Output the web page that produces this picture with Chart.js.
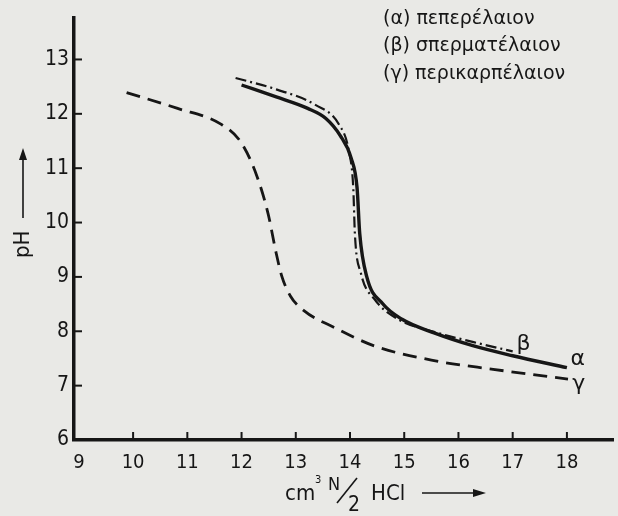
<!DOCTYPE html>
<html>
<head>
<meta charset="utf-8">
<script src="https://cdn.jsdelivr.net/npm/chart.js@4.4.1/dist/chart.umd.min.js"></script>
<style>
  html, body { margin: 0; padding: 0; background: #e9e9e6; }
  #wrap { width: 618px; height: 516px; position: relative; }
</style>
</head>
<body>
<div id="wrap"><canvas id="grafico"></canvas></div>
<script>
// curvas de titulação (cm3 N/2 HCl -> pH)
var alfa_x = [12.0, 12.64, 13.22, 13.55, 13.82, 14.02, 14.13, 14.18, 14.31, 14.60, 14.96, 15.55, 16.28, 17.0, 18.0]
var alfa_y = [12.53, 12.31, 12.10, 11.92, 11.6, 11.19, 10.64, 9.79, 9.0, 8.51, 8.22, 7.97, 7.73, 7.55, 7.33]

var beta_x = [11.89, 12.64, 13.37, 13.80, 13.98, 14.06, 14.09, 14.20, 14.46, 14.89, 15.55, 16.28, 17.0]
var beta_y = [12.66, 12.45, 12.16, 11.80, 11.31, 10.64, 9.79, 9.07, 8.58, 8.22, 7.99, 7.80, 7.63]

var gama_x = [9.88, 10.82, 11.62, 11.98, 12.27, 12.49, 12.64, 12.74, 12.9, 13.15, 13.73, 14.45, 15.55, 16.64, 18.02]
var gama_y = [12.39, 12.10, 11.81, 11.49, 10.89, 10.16, 9.43, 9.02, 8.65, 8.38, 8.06, 7.73, 7.46, 7.30, 7.12]

var ticks_x = [9, 10, 11, 12, 13, 14, 15, 16, 17, 18]
var ticks_y = [6, 7, 8, 9, 10, 11, 12, 13]

var legenda = ['(α) πεπερέλαιον', '(β) σπερματέλαιον', '(γ) περικαρπέλαιον']
var rotulos = ['α', 'β', 'γ']
var rotulos_pos = [[18.2, 7.48], [17.2, 7.76], [18.22, 7.03]]

var tinta = '#161616'
var fonte = '"DejaVu Sans Condensed", "DejaVu Sans", sans-serif'
var fonte_larga = '"DejaVu Sans", sans-serif'

function pontos(xs, ys) {
  return xs.map(function (x, i) { return { x: x, y: ys[i] } })
}

var desenhos = {
  id: 'desenhos',
  afterDraw: function (chart) {
    var ctx = chart.ctx
    var sx = chart.scales.x
    var sy = chart.scales.y
    var area = chart.chartArea
    ctx.save()
    ctx.strokeStyle = tinta
    ctx.fillStyle = tinta
    ctx.lineWidth = 2
    // marcas para dentro
    ticks_x.forEach(function (v) {
      if (v == 9) return
      var px = sx.getPixelForValue(v)
      ctx.beginPath(); ctx.moveTo(px, area.bottom); ctx.lineTo(px, area.bottom - 8); ctx.stroke()
    })
    ticks_y.forEach(function (v) {
      if (v == 6) return
      var py = sy.getPixelForValue(v)
      ctx.beginPath(); ctx.moveTo(area.left, py); ctx.lineTo(area.left + 8, py); ctx.stroke()
    })

    // letras das curvas
    ctx.font = '22px ' + fonte_larga
    ctx.textAlign = 'center'
    ctx.textBaseline = 'middle'
    rotulos.forEach(function (r, i) {
      ctx.fillText(r, sx.getPixelForValue(rotulos_pos[i][0]), sy.getPixelForValue(rotulos_pos[i][1]))
    })

    // legenda
    ctx.font = '19px ' + fonte_larga
    ctx.textAlign = 'left'
    legenda.forEach(function (t, i) {
      ctx.fillText(t, 383, 19 + i * 27.5)
    })

    // titulo eixo y
    ctx.save()
    ctx.translate(23, 258)
    ctx.rotate(-Math.PI / 2)
    ctx.font = '22px ' + fonte
    ctx.textAlign = 'left'
    ctx.fillText('pH', 0, 0)
    ctx.lineWidth = 1.6
    ctx.beginPath(); ctx.moveTo(40, 0); ctx.lineTo(102, 0); ctx.stroke()
    ctx.beginPath(); ctx.moveTo(110, 0); ctx.lineTo(98, -4); ctx.lineTo(98, 4); ctx.closePath(); ctx.fill()
    ctx.restore()

    // titulo eixo x
    ctx.font = '22px ' + fonte
    ctx.textAlign = 'left'
    ctx.fillText('cm', 285, 494)
    ctx.font = '11px ' + fonte
    ctx.fillText('3', 315, 480)
    ctx.font = '18px ' + fonte
    ctx.fillText('N', 328, 485)
    ctx.font = '21px ' + fonte
    ctx.fillText('2', 348, 506)
    ctx.lineWidth = 1.6
    ctx.beginPath(); ctx.moveTo(337, 503); ctx.lineTo(357, 478); ctx.stroke()
    ctx.font = '22px ' + fonte
    ctx.fillText('HCl', 371, 494)
    ctx.beginPath(); ctx.moveTo(422, 493); ctx.lineTo(476, 493); ctx.stroke()
    ctx.beginPath(); ctx.moveTo(486, 493); ctx.lineTo(473, 489); ctx.lineTo(473, 497); ctx.closePath(); ctx.fill()
    ctx.restore()
  }
}

var ctxGrafico = document.getElementById('grafico').getContext('2d')
var configGrafico = {
  type: 'line',
  data: {
    datasets: [
      {
        label: 'α',
        data: pontos(alfa_x, alfa_y),
        borderColor: tinta,
        borderWidth: 3.4,
        pointRadius: 0,
        cubicInterpolationMode: 'monotone',
        fill: false
      },
      {
        label: 'β',
        data: pontos(beta_x, beta_y),
        borderColor: tinta,
        borderWidth: 2.2,
        borderDash: [11, 4, 2, 4],
        pointRadius: 0,
        cubicInterpolationMode: 'monotone',
        fill: false
      },
      {
        label: 'γ',
        data: pontos(gama_x, gama_y),
        borderColor: tinta,
        borderWidth: 2.8,
        borderDash: [14, 8],
        pointRadius: 0,
        cubicInterpolationMode: 'monotone',
        fill: false
      }
    ]
  },
  options: {
    responsive: true,
    maintainAspectRatio: false,
    animation: false,
    layout: { padding: { top: 16, right: 5, left: 0, bottom: 0 } },
    plugins: { legend: { display: false }, tooltip: { enabled: false } },
    scales: {
      x: {
        type: 'linear',
        min: 8.91,
        max: 18.85,
        afterBuildTicks: function (scale) {
          scale.ticks = ticks_x.map(function (v) { return { value: v } })
        },
        afterFit: function (scale) { scale.height = 76 },
        grid: { display: false, drawTicks: false },
        border: { display: true, color: tinta, width: 3.5 },
        ticks: { color: tinta, padding: 11, font: { family: fonte, size: 20 } }
      },
      y: {
        type: 'linear',
        min: 6,
        max: 13.77,
        afterBuildTicks: function (scale) {
          scale.ticks = ticks_y.map(function (v) { return { value: v } })
        },
        afterFit: function (scale) { scale.width = 74 },
        grid: { display: false, drawTicks: false },
        border: { display: true, color: tinta, width: 3.5 },
        ticks: { color: tinta, padding: 5, font: { family: fonte, size: 21 } }
      }
    }
  },
  plugins: [desenhos]
}
var grafico = new Chart(ctxGrafico, configGrafico)
</script>
</body>
</html>
